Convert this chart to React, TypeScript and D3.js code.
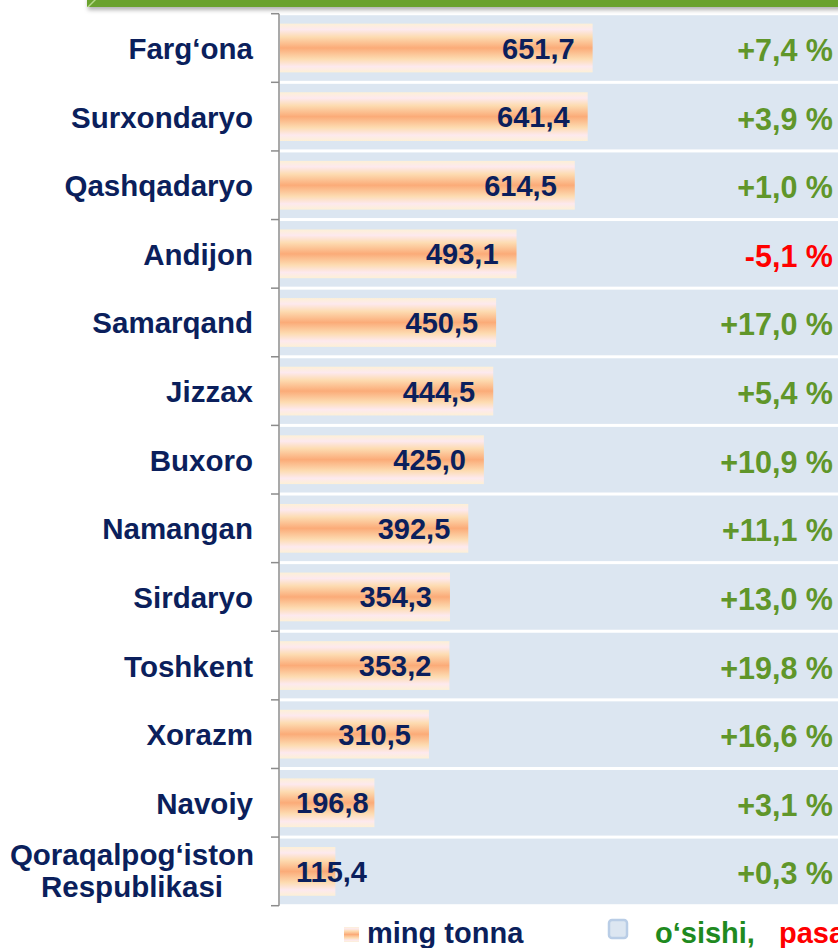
import React, { useEffect, useRef } from "react";
import * as d3 from "d3";

const categories = [
  "Farg‘ona",
  "Surxondaryo",
  "Qashqadaryo",
  "Andijon",
  "Samarqand",
  "Jizzax",
  "Buxoro",
  "Namangan",
  "Sirdaryo",
  "Toshkent",
  "Xorazm",
  "Navoiy",
  "Qoraqalpog‘iston\nRespublikasi",
];
const values = [651.7, 641.4, 614.5, 493.1, 450.5, 444.5, 425.0, 392.5, 354.3, 353.2, 310.5, 196.8, 115.4];
const growth = [7.4, 3.9, 1.0, -5.1, 17.0, 5.4, 10.9, 11.1, 13.0, 19.8, 16.6, 3.1, 0.3];
const legendLabels = ["ming tonna", "o‘sishi,", "pasayishi"];

const W = 838;
const H = 948;
const FONT = "'Liberation Sans', Arial, sans-serif";
const NAVY = "#0b1f5c";
const GREEN = "#60962a";
const RED = "#ff0000";
const BAND = "#dce6f1";

export default function App() {
  const ref = useRef<SVGSVGElement | null>(null);

  useEffect(() => {
    const svg = d3.select(ref.current);
    svg.selectAll("*").remove();

    const defs = svg.append("defs");
    const grad = defs
      .append("linearGradient")
      .attr("id", "barGrad")
      .attr("x1", 0)
      .attr("y1", 0)
      .attr("x2", 0)
      .attr("y2", 1);
    const stops: [number, string][] = [
      [0, "#fdf0d6"],
      [0.12, "#fde9ee"],
      [0.27, "#fddcb2"],
      [0.5, "#fbab78"],
      [0.73, "#fddcb2"],
      [0.88, "#fde9ee"],
      [1, "#fdf0d6"],
    ];
    stops.forEach(([o, c]) => grad.append("stop").attr("offset", o).attr("stop-color", c));

    const shadow = defs.append("filter").attr("id", "hdrShadow").attr("x", "-5%").attr("y", "-50%").attr("width", "110%").attr("height", "300%");
    shadow.append("feDropShadow").attr("dx", 1).attr("dy", 3).attr("stdDeviation", 2).attr("flood-color", "#000").attr("flood-opacity", 0.3);

    const x = d3.scaleLinear().domain([0, 1200]).range([280, 280 + 1200 * 0.4797]);
    const rows = d3.scaleBand<string>().domain(categories).range([13.7, 905.7]).padding(0);
    const y = d3
      .scaleBand<string>()
      .domain(categories)
      .range([13.7, 905.7])
      .paddingInner(0.29)
      .paddingOuter(0.145);

    // header bar
    const hdr = svg.append("g");
    hdr.append("rect").attr("x", 87).attr("y", -4).attr("width", W - 87 + 4).attr("height", 11).attr("fill", "#6aa22e").attr("filter", "url(#hdrShadow)");
    hdr.append("path").attr("d", "M87,7 L95,-1 L97,-1 L89,7 Z").attr("fill", "#b6d98a");

    // background bands
    svg
      .append("g")
      .selectAll("rect")
      .data(categories)
      .join("rect")
      .attr("x", 280)
      .attr("y", (d) => (rows(d) as number) + 1.5)
      .attr("width", W - 280)
      .attr("height", rows.bandwidth() - 3)
      .attr("fill", BAND);

    // bars
    svg
      .append("g")
      .selectAll("rect")
      .data(categories)
      .join("rect")
      .attr("x", x(0))
      .attr("y", (d) => y(d) as number)
      .attr("width", (_d, i) => x(values[i]) - x(0))
      .attr("height", y.bandwidth())
      .attr("fill", "url(#barGrad)");

    // axis
    const axisG = svg.append("g").attr("stroke", "#8c8c8c").attr("stroke-width", 1.5);
    axisG.append("line").attr("x1", 279).attr("x2", 279).attr("y1", 13.7).attr("y2", 905.7);
    const tickYs = categories.map((c) => rows(c) as number).concat([905.7]);
    axisG
      .selectAll("line.tick")
      .data(tickYs)
      .join("line")
      .attr("class", "tick")
      .attr("x1", 271)
      .attr("x2", 279)
      .attr("y1", (d) => d)
      .attr("y2", (d) => d);

    const comma = (v: number) => Math.abs(v).toFixed(1).replace(".", ",");

    // category labels
    const catG = svg.append("g").attr("font-family", FONT).attr("font-weight", "bold").attr("font-size", 29.5).attr("fill", NAVY);
    categories.forEach((c) => {
      const cy = (rows(c) as number) + rows.bandwidth() / 2;
      const lines = c.split("\n");
      if (lines.length === 1) {
        catG.append("text").attr("x", 253).attr("y", cy + 11).attr("text-anchor", "end").text(c);
      } else {
        lines.forEach((ln, k) => {
          catG
            .append("text")
            .attr("x", 132)
            .attr("y", cy - 6 + k * 32)
            .attr("text-anchor", "middle")
            .text(ln);
        });
      }
    });

    // value labels
    const valG = svg.append("g").attr("font-family", FONT).attr("font-weight", "bold").attr("font-size", 29).attr("fill", NAVY);
    categories.forEach((c, i) => {
      const cy = (y(c) as number) + y.bandwidth() / 2;
      const t = valG.append("text").attr("y", cy + 10.5).text(comma(values[i]));
      const w = (t.node() as SVGTextElement).getComputedTextLength();
      const end = x(values[i]) - 18;
      if (end - w < 296) {
        t.attr("x", 296).attr("text-anchor", "start");
      } else {
        t.attr("x", end).attr("text-anchor", "end");
      }
    });

    // growth labels
    const gG = svg.append("g").attr("font-family", FONT).attr("font-weight", "bold").attr("font-size", 30.5);
    categories.forEach((c, i) => {
      const cy = (rows(c) as number) + rows.bandwidth() / 2;
      const g = growth[i];
      gG.append("text")
        .attr("x", 833)
        .attr("y", cy + 13)
        .attr("text-anchor", "end")
        .attr("fill", g < 0 ? RED : GREEN)
        .text((g >= 0 ? "+" : "-") + comma(g) + " %");
    });

    // legend
    const lg = svg.append("g").attr("font-family", FONT).attr("font-weight", "bold").attr("font-size", 29);
    lg.append("rect").attr("x", 344).attr("y", 927).attr("width", 15).attr("height", 15).attr("fill", "url(#barGrad)");
    lg.append("text").attr("x", 367).attr("y", 943).attr("fill", NAVY).text(legendLabels[0]);
    lg.append("rect")
      .attr("x", 609)
      .attr("y", 920)
      .attr("width", 18)
      .attr("height", 18)
      .attr("rx", 3)
      .attr("fill", BAND)
      .attr("stroke", "#b9cde6")
      .attr("stroke-width", 2.5);
    lg.append("text").attr("x", 655).attr("y", 943).attr("fill", "#1f8a1f").text(legendLabels[1]);
    lg.append("text").attr("x", 779).attr("y", 943).attr("fill", RED).text(legendLabels[2]);
  }, []);

  return (
    <div style={{ position: "absolute", left: 0, top: 0, width: W, height: H, background: "#fff" }}>
      <svg ref={ref} width={W} height={H} style={{ display: "block" }} />
    </div>
  );
}
